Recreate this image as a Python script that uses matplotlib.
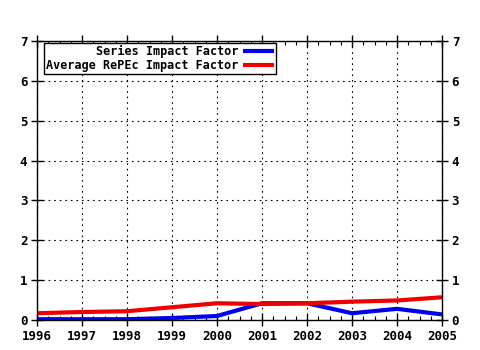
import matplotlib
matplotlib.use("Agg")
import matplotlib.pyplot as plt
from matplotlib.ticker import MultipleLocator

years = [1996, 1997, 1998, 1999, 2000, 2001, 2002, 2003, 2004, 2005]
series_if = [0.02, 0.02, 0.02, 0.05, 0.10, 0.42, 0.42, 0.17, 0.28, 0.14]
repec_if = [0.17, 0.20, 0.22, 0.32, 0.42, 0.40, 0.42, 0.46, 0.49, 0.57]
y_ticks = [0, 1, 2, 3, 4, 5, 6, 7]

plt.rcParams['font.family'] = ['DejaVu Sans Mono']
plt.rcParams['font.weight'] = 'bold'

fig = plt.figure(figsize=(4.8, 3.5), dpi=100)
ax = fig.add_axes([37 / 480, 30 / 350, 405 / 480, 279 / 350])

ax.plot(years, series_if, color='#0000ee', lw=3, label='Series Impact Factor', solid_capstyle='butt')
ax.plot(years, repec_if, color='#ee0000', lw=3, label='Average RePEc Impact Factor', solid_capstyle='butt')

ax.set_xlim(years[0], years[-1])
ax.set_ylim(0, 7)
ax.set_xticks(years)
ax.set_yticks(y_ticks)
ax.xaxis.set_minor_locator(MultipleLocator(0.25))
ax.grid(True, which='major', color='black', linestyle=(0, (1.5, 3.5)), linewidth=0.8)

for s in ax.spines.values():
    s.set_linewidth(1.0)
    s.set_color('black')

ax.tick_params(axis='both', which='major', direction='inout', length=8, width=1,
               labelsize=9, top=True, right=True, labelright=True, pad=3)
ax.tick_params(axis='x', which='minor', direction='in', length=3, width=0.8,
               top=True)

for lbl in ax.get_xticklabels() + ax.get_yticklabels() + ax.yaxis.get_ticklabels(which='major'):
    lbl.set_fontweight('bold')

leg = ax.legend(loc='upper left', bbox_to_anchor=(0.018, 0.992), markerfirst=False,
                frameon=True, fancybox=False, edgecolor='black', framealpha=1,
                fontsize=8.5, handlelength=2.6, handletextpad=0.4,
                borderpad=0.15, labelspacing=0.1, borderaxespad=0)
leg.get_frame().set_linewidth(1.0)
for t in leg.get_texts():
    t.set_fontweight('bold')
    t.set_ha('right')
leg._legend_box.align = 'right'

fig.savefig('out.png', dpi=100)
